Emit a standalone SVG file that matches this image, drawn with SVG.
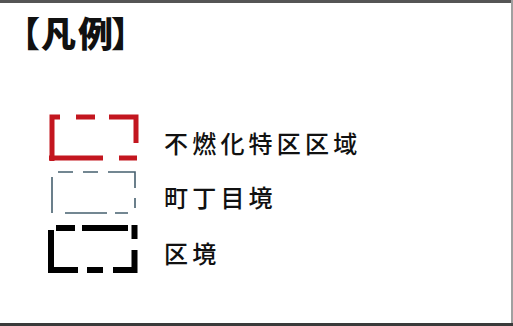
<svg xmlns="http://www.w3.org/2000/svg" width="513" height="326" viewBox="0 0 513 326">
<style>
.lbl{font-family:"Noto Sans CJK JP","Noto Sans CJK SC",sans-serif;font-size:24px;font-weight:500;fill:#111;letter-spacing:4.2px}
.ttl{font-family:"Noto Sans CJK JP","Noto Sans CJK SC",sans-serif;font-size:35px;font-weight:900;fill:#111}
.red{stroke:#c3161f;stroke-width:5;fill:none;stroke-linecap:butt}
.blue{stroke:#46606f;stroke-width:1.6;fill:none}
.blk{stroke:#000;stroke-width:6;fill:none}
</style>
<rect x="0" y="0" width="513" height="326" fill="#fff"/>
<g id="frame">
<rect x="0" y="0" width="513" height="3" fill="#555"/>
<rect x="511" y="0" width="2" height="326" fill="#a0a0a0"/>
<rect x="0" y="323" width="513" height="3" fill="#3a3a3a"/>
</g>
<g id="title"><text class="ttl" x="5 41 78 111" y="47">【凡例】</text></g>
<g id="legend-fuenka">
<path class="red" d="M52,161 V117 H60 M76,117 H95 M109,117 H136 V143 M49,158 H103 M119,158 H137"/>
<text class="lbl" x="164" y="153">不燃化特区区域</text>
</g>
<g id="legend-choume">
<path class="blue" d="M52,177 V213 M58,172 H73 M83,172 H98 M108,172 H135 V188 M135,198 V208 M65,213 H107 M115,213 H128"/>
<text class="lbl" x="164" y="207">町丁目境</text>
</g>
<g id="legend-ku">
<path class="blk" d="M51,230 V273 M56,228 H75 M82,228 H128 M134.5,225 V239 M134.5,250 V273 M48,270 H78 M87,270 H103 M113,270 H137"/>
<text class="lbl" x="164" y="263">区境</text>
</g>
</svg>
